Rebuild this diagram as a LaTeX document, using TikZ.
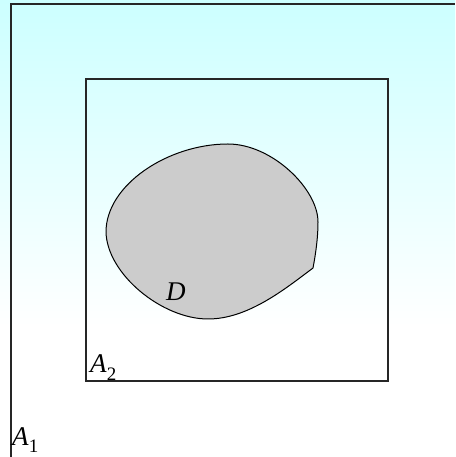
\documentclass[tikz,border=0pt]{standalone}
\usepackage{fontspec}
\setmainfont{Liberation Serif}
\definecolor{skytop}{RGB}{204,255,255}
\definecolor{regionfill}{RGB}{204,204,204}
\newcommand{\setlbl}[2]{\textit{#1}\raisebox{-0.28em}{\fontsize{19}{19}\selectfont #2}}
\begin{document}
\begin{tikzpicture}[x=1pt,y=1pt,
  frame/.style={draw=black!85, line width=1.3pt},
  lbl/.style={font=\fontsize{27}{27}\selectfont, inner sep=0pt, anchor=base west}]
\useasboundingbox (0,0) rectangle (455,457);
% background: light cyan fading to white
\fill[white] (0,0) rectangle (455,457);
\shade[top color=skytop, bottom color=white] (0,130) rectangle (455,457);
\coordinate (o1) at (11,0);
\coordinate (o2) at (11,453);
\coordinate (o3) at (455,453);
\draw[frame] (o1) -- (o2) -- (o3);
\draw[frame] (86,76) rectangle (388,378);
% the region D
\coordinate (c) at (313,189);
\coordinate (r) at (318,235);
\coordinate (t) at (228,313);
\coordinate (l) at (106,225);
\coordinate (b) at (208,138);
\filldraw[fill=regionfill, draw=black, line width=1pt]
  (c) .. controls (316,205) and (318,220) .. (r)
      .. controls (318,268) and (272,313) .. (t)
      .. controls (168,313) and (106,272) .. (l)
      .. controls (107,183) and (162,138) .. (b)
      .. controls (248,138) and (285,168) .. (c) -- cycle;
\node[lbl] (d) at (166,156) {\textit{D}};
\node[lbl] (a2) at (90,84) {\setlbl{A}{2}};
\node[lbl] (a1) at (12,12) {\setlbl{A}{1}};
\end{tikzpicture}
\end{document}
